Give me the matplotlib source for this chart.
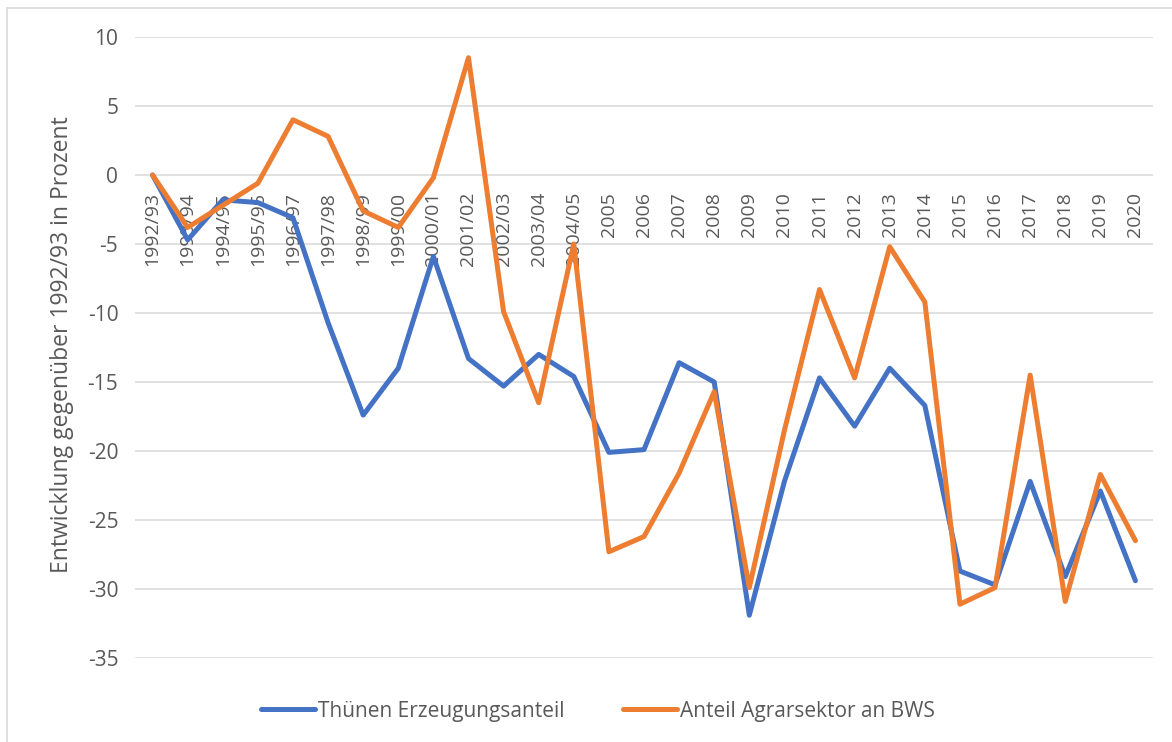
import matplotlib
matplotlib.use("Agg")
import matplotlib.pyplot as plt
import matplotlib.transforms as mtransforms
from matplotlib.patches import Rectangle

categories = ["1992/93", "1993/94", "1994/95", "1995/96", "1996/97", "1997/98",
              "1998/99", "1999/00", "2000/01", "2001/02", "2002/03", "2003/04",
              "2004/05", "2005", "2006", "2007", "2008", "2009", "2010", "2011",
              "2012", "2013", "2014", "2015", "2016", "2017", "2018", "2019", "2020"]

thuenen = [0.0, -4.7, -1.8, -2.0, -3.1, -10.7, -17.4, -14.0, -5.9, -13.3, -15.3,
           -13.0, -14.6, -20.1, -19.9, -13.6, -15.0, -31.9, -22.2, -14.7, -18.2,
           -14.0, -16.7, -28.7, -29.7, -22.2, -29.1, -22.9, -29.4]

agrar = [0.0, -3.8, -2.2, -0.6, 4.0, 2.8, -2.6, -3.8, -0.2, 8.5, -9.9, -16.5,
         -5.0, -27.3, -26.2, -21.6, -15.7, -29.9, -18.5, -8.3, -14.7, -5.2, -9.2,
         -31.1, -29.9, -14.5, -30.9, -21.7, -26.5]

series_names = ["Thünen Erzeugungsanteil", "Anteil Agrarsektor an BWS"]
yticks = [10, 5, 0, -5, -10, -15, -20, -25, -30, -35]

plt.rcParams["font.family"] = ["Open Sans", "DejaVu Sans"]
plt.rcParams["axes.unicode_minus"] = False
TXT = "#595959"
BLUE = "#4472C4"
ORANGE = "#ED7D31"
GRID = "#D9D9D9"

W, H = 1172, 742
fig = plt.figure(figsize=(W / 100, H / 100), dpi=100)

# outer chart border
fig.patches.append(Rectangle((7 / W, -0.01), 1.02 - 7 / W, 1 - 8 / H + 0.01,
                             transform=fig.transFigure, fill=False,
                             edgecolor=GRID, linewidth=1.2))

left, right = 135 / W, 1153 / W
top, bottom = 1 - 37 / H, 1 - 658 / H
ax = fig.add_axes([left, bottom, right - left, top - bottom])

x = list(range(len(categories)))
ax.set_xlim(-0.5, len(categories) - 0.5)
ax.set_ylim(-35, 10)
ax.set_yticks(yticks)
ax.grid(axis="y", color=GRID, linewidth=1.1)
ax.set_axisbelow(True)
for s in ax.spines.values():
    s.set_visible(False)

ax.plot(x, thuenen, color=BLUE, linewidth=3.6, solid_joinstyle="round",
        solid_capstyle="round", label=series_names[0], zorder=3)
ax.plot(x, agrar, color=ORANGE, linewidth=3.6, solid_joinstyle="round",
        solid_capstyle="round", label=series_names[1], zorder=4)

ax.tick_params(axis="y", length=0, pad=12, labelsize=15, labelcolor=TXT)
ax.tick_params(axis="x", length=0, labelbottom=False)

# category labels next to the zero line
offset = ax.transData + mtransforms.ScaledTranslation(0, -17 / 100, fig.dpi_scale_trans)
for i, c in enumerate(categories):
    ax.text(i, 0, c, rotation=90, ha="center", va="top", fontsize=14,
            color=TXT, transform=offset, zorder=2)

fig.text(62 / W, 1 - 345 / H, "Entwicklung gegenüber 1992/93 in Prozent",
         rotation=90, ha="center", va="center", fontsize=16.5, color=TXT)

leg = fig.legend(loc="center", bbox_to_anchor=(0.5 + 12 / W, 1 - 711 / H), ncol=2,
                 frameon=False, fontsize=15, labelcolor=TXT, handlelength=2.6,
                 handletextpad=0.15, columnspacing=2.8)

fig.savefig("out.png", dpi=100)
